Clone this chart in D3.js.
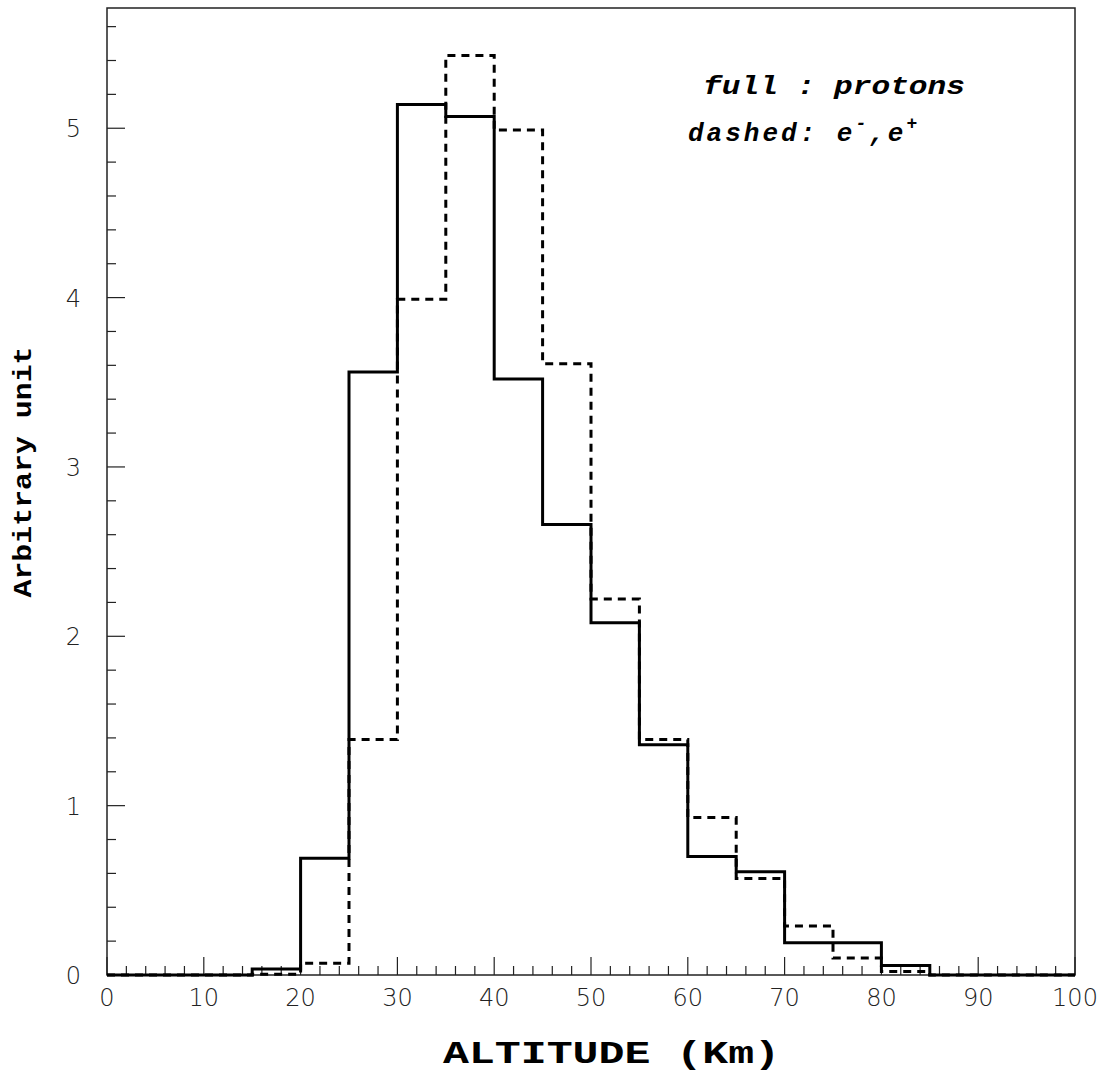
<!DOCTYPE html>
<html>
<head>
<meta charset="utf-8">
<script src="https://cdn.jsdelivr.net/npm/d3@7"></script>
<style>
  body { margin: 0; background: #fff; }
  svg { display: block; }
</style>
</head>
<body>
<div id="chart"></div>
<script>
// ===== data (bins of 5 km, 0..100)
var binStarts = [0, 5, 10, 15, 20, 25, 30, 35, 40, 45, 50, 55, 60, 65, 70, 75, 80, 85, 90, 95];
var protons   = [0, 0, 0, 0.035, 0.69, 3.56, 5.14, 5.07, 3.52, 2.66, 2.08, 1.36, 0.70, 0.61, 0.19, 0.19, 0.056, 0, 0, 0];
var electrons = [0, 0, 0, 0.005, 0.07, 1.39, 3.99, 5.43, 4.99, 3.61, 2.22, 1.39, 0.93, 0.57, 0.29, 0.10, 0.02, 0, 0, 0];
var xTickLabels = [0, 10, 20, 30, 40, 50, 60, 70, 80, 90, 100];
var yTickLabels = [0, 1, 2, 3, 4, 5];

// ===== size
var svgWidth = 1104, svgHeight = 1087;
var margin = { top: 8, right: 29, bottom: 112, left: 107 };
var width = svgWidth - margin.left - margin.right;
var height = svgHeight - margin.top - margin.bottom;

var svg = d3.select("#chart").append("svg")
    .attr("width", svgWidth)
    .attr("height", svgHeight);

var chartGroup = svg.append("g")
    .attr("transform", `translate(${margin.left}, ${margin.top})`);

var xScale = d3.scaleLinear().domain([0, 100]).range([0, width]);
var yScale = d3.scaleLinear().domain([0, 5.71]).range([height, 0]);

// ===== frame
chartGroup.append("rect")
    .attr("x", 0).attr("y", 0)
    .attr("width", width).attr("height", height)
    .attr("fill", "none")
    .attr("stroke", "#222")
    .attr("stroke-width", 1.5);

// ===== ticks
var labelFont = "'DejaVu Sans', 'Liberation Sans', sans-serif";

var xMinor = d3.range(0, 101, 2);
chartGroup.selectAll("line.xtick")
    .data(xMinor)
    .enter().append("line")
    .attr("class", "xtick")
    .attr("x1", d => xScale(d)).attr("x2", d => xScale(d))
    .attr("y1", height)
    .attr("y2", d => height - (d % 10 === 0 ? 18 : 9))
    .attr("stroke", "#222").attr("stroke-width", 1.2);

var yMinor = d3.range(0, 29).map(i => +(i * 0.2).toFixed(1));
chartGroup.selectAll("line.ytick")
    .data(yMinor)
    .enter().append("line")
    .attr("class", "ytick")
    .attr("x1", 0)
    .attr("x2", d => (Math.abs(d - Math.round(d)) < 1e-6 ? 18 : 9))
    .attr("y1", d => yScale(d)).attr("y2", d => yScale(d))
    .attr("stroke", "#222").attr("stroke-width", 1.2);

chartGroup.selectAll("text.xlab")
    .data(xTickLabels)
    .enter().append("text")
    .attr("class", "xlab")
    .attr("x", d => xScale(d))
    .attr("y", height + 31)
    .attr("text-anchor", "middle")
    .attr("font-family", labelFont)
    .attr("font-weight", 200)
    .attr("font-size", "24px")
    .attr("fill", "#222")
    .text(d => d);

chartGroup.selectAll("text.ylab")
    .data(yTickLabels)
    .enter().append("text")
    .attr("class", "ylab")
    .attr("x", -26)
    .attr("y", d => yScale(d) + 9)
    .attr("text-anchor", "end")
    .attr("font-family", labelFont)
    .attr("font-weight", 200)
    .attr("font-size", "24px")
    .attr("fill", "#222")
    .text(d => d);

// ===== histograms
function stepPoints(values) {
    var pts = binStarts.map((b, i) => [b, values[i]]);
    pts.push([100, values[values.length - 1]]);
    return pts;
}

var line = d3.line()
    .x(d => xScale(d[0]))
    .y(d => yScale(d[1]))
    .curve(d3.curveStepAfter);

chartGroup.append("path")
    .attr("d", line(stepPoints(electrons)))
    .attr("fill", "none")
    .attr("stroke", "#000")
    .attr("stroke-width", 3)
    .attr("stroke-dasharray", "8,6");

chartGroup.append("path")
    .attr("d", line(stepPoints(protons)))
    .attr("fill", "none")
    .attr("stroke", "#000")
    .attr("stroke-width", 3);

// ===== titles
var monoFont = "'Liberation Mono', 'Courier New', monospace";

svg.append("text")
    .attr("x", 443)
    .attr("y", 1063)
    .attr("font-family", monoFont)
    .attr("font-weight", "bold")
    .attr("font-size", "31px")
    .attr("textLength", 337)
    .attr("lengthAdjust", "spacingAndGlyphs")
    .attr("fill", "#000")
    .text("ALTITUDE   (Km)");

svg.append("text")
    .attr("transform", "translate(31, 472) rotate(-90)")
    .attr("text-anchor", "middle")
    .attr("font-family", monoFont)
    .attr("font-weight", "bold")
    .attr("font-size", "26px")
    .attr("textLength", 251)
    .attr("lengthAdjust", "spacingAndGlyphs")
    .attr("fill", "#000")
    .text("Arbitrary unit");

// ===== legend text
svg.append("text")
    .attr("x", 703)
    .attr("y", 94)
    .attr("font-family", monoFont)
    .attr("font-weight", "bold")
    .attr("font-style", "italic")
    .attr("font-size", "26px")
    .attr("textLength", 262)
    .attr("lengthAdjust", "spacingAndGlyphs")
    .attr("fill", "#000")
    .text("full : protons");

var leg2 = svg.append("text")
    .attr("x", 688)
    .attr("y", 141)
    .attr("font-family", monoFont)
    .attr("font-weight", "bold")
    .attr("font-style", "italic")
    .attr("font-size", "26px")
    .attr("letter-spacing", "3px")
    .attr("fill", "#000");
leg2.append("tspan").text("dashed: e");
leg2.append("tspan").attr("dy", -12).attr("font-size", "18px").text("-");
leg2.append("tspan").attr("dy", 12).text(",e");
leg2.append("tspan").attr("dy", -12).attr("font-size", "18px").text("+");
</script>
</body>
</html>
